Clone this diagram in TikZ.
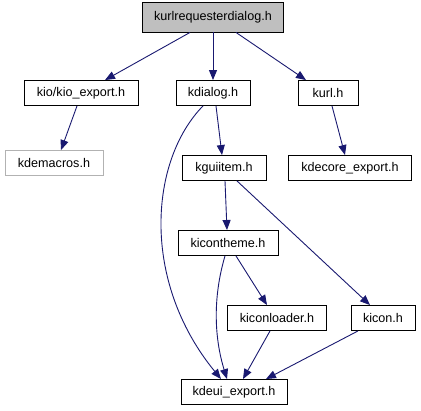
\documentclass[tikz,border=0pt]{standalone}
\usepackage{fontspec}
\setmainfont{Liberation Sans}
\usetikzlibrary{arrows.meta}
\definecolor{edgeblue}{HTML}{191970}
\begin{document}
\begin{tikzpicture}[x=1pt,y=-1pt,
  box/.style={draw=black,fill=white,line width=0.9pt,minimum height=25pt,inner xsep=5pt,font=\fontsize{12.6}{14}\selectfont,anchor=center},
  graybox/.style={box,draw=gray!60},
  rootbox/.style={box,fill=gray!50},
  dep/.style={draw=edgeblue,line width=0.9pt,-{Triangle[length=10pt,width=8pt]}}]
\useasboundingbox (0,0) rectangle (421,411);
\node[rootbox,minimum width=141pt,minimum height=30pt] (root) at (213,17) {kurlrequesterdialog.h};
\node[box,minimum width=114pt] (kio) at (81,93) {kio/kio\_export.h};
\node[box,minimum width=74pt] (kdialog) at (213,93) {kdialog.h};
\node[box,minimum width=60pt] (kurl) at (328,93) {kurl.h};
\node[graybox,minimum width=98pt] (kdemacros) at (54,163) {kdemacros.h};
\node[box,minimum width=84pt] (kguiitem) at (224,168) {kguiitem.h};
\node[box,minimum width=123pt] (kdecore) at (350,168) {kdecore\_export.h};
\node[box,minimum width=100pt] (kicontheme) at (228,243) {kicontheme.h};
\node[box,minimum width=99pt] (kiconloader) at (277,318) {kiconloader.h};
\node[box,minimum width=64pt] (kicon) at (383,318) {kicon.h};
\node[box,minimum width=106pt] (kdeui) at (234,392) {kdeui\_export.h};
\draw[dep] (root.south -| 190,0) -- (kio.north -| 105,0);
\draw[dep] (root) -- (kdialog);
\draw[dep] (root.south -| 236,0) -- (kurl.north -| 306,0);
\draw[dep] (kio.south -| 77,0) -- (kdemacros.north -| 61,0);
\draw[dep] (kdialog.south -| 216,0) -- (kguiitem.north -| 222,0);
\draw[dep] (kdialog.south -| 203,0) .. controls (150,160) and (140,280) .. (kdeui.north -| 221,0);
\draw[dep] (kurl.south -| 332,0) -- (kdecore.north -| 345,0);
\draw[dep] (kguiitem.south -| 225,0) -- (kicontheme.north -| 227,0);
\draw[dep] (kguiitem.south -| 237,0) -- (kicon.north -| 370,0);
\draw[dep] (kicontheme.south -| 225,0) .. controls (212,300) and (215,340) .. (kdeui.north -| 227,0);
\draw[dep] (kicontheme.south -| 236,0) -- (kiconloader.north -| 267,0);
\draw[dep] (kiconloader.south -| 270,0) -- (kdeui.north -| 243,0);
\draw[dep] (kicon.south -| 358,0) -- (kdeui.north -| 266,0);
\end{tikzpicture}
\end{document}
